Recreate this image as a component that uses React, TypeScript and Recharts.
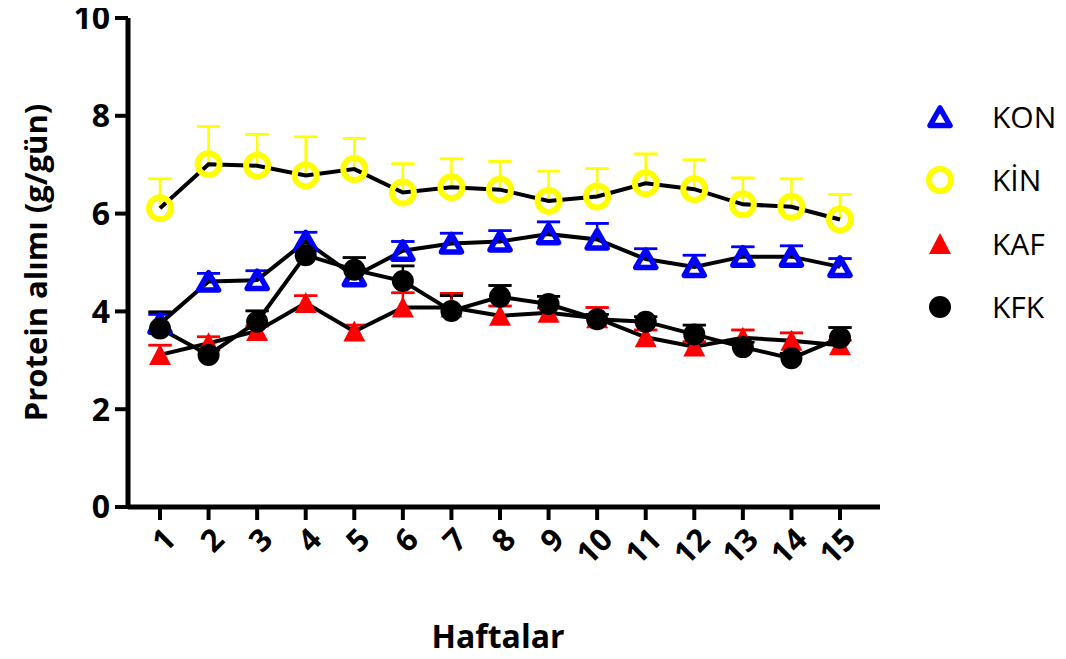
import React from 'react';
import { LineChart, Line, XAxis, YAxis, ErrorBar } from 'recharts';

const weeks = ['1', '2', '3', '4', '5', '6', '7', '8', '9', '10', '11', '12', '13', '14', '15'];

const konMean = [3.75, 4.61, 4.64, 5.43, 4.72, 5.24, 5.39, 5.43, 5.58, 5.47, 5.07, 4.91, 5.12, 5.12, 4.91];
const konErr = [0.19, 0.17, 0.19, 0.19, 0.15, 0.19, 0.21, 0.22, 0.25, 0.33, 0.21, 0.24, 0.2, 0.22, 0.17];

const kinMean = [6.11, 7.01, 6.98, 6.78, 6.91, 6.43, 6.54, 6.49, 6.26, 6.35, 6.62, 6.5, 6.19, 6.14, 5.88];
const kinErr = [0.6, 0.77, 0.64, 0.79, 0.63, 0.59, 0.58, 0.58, 0.61, 0.57, 0.6, 0.6, 0.54, 0.57, 0.51];

const kafMean = [3.11, 3.35, 3.6, 4.17, 3.59, 4.08, 4.08, 3.91, 3.97, 3.86, 3.47, 3.28, 3.46, 3.4, 3.31];
const kafErr = [0.2, 0.13, 0.1, 0.15, 0.13, 0.3, 0.29, 0.2, 0.1, 0.22, 0.15, 0.1, 0.16, 0.16, 0.1];

const kfkMean = [3.65, 3.11, 3.79, 5.15, 4.85, 4.62, 4.01, 4.3, 4.15, 3.84, 3.79, 3.53, 3.27, 3.04, 3.46];
const kfkErr = [0.34, 0.1, 0.22, 0.1, 0.25, 0.31, 0.31, 0.23, 0.16, 0.1, 0.1, 0.19, 0.1, 0.1, 0.21];

const yTicks = [0, 2, 4, 6, 8, 10];

const BLUE = '#0000FF';
const YELLOW = '#FFFF00';
const RED = '#FF0000';
const BLACK = '#000000';
const FONT = '"Open Sans", "DejaVu Sans", sans-serif';

const data = weeks.map((w, i) => ({
  week: w,
  kon: konMean[i],
  konE: [0, konErr[i]],
  konTop: konMean[i] + konErr[i],
  kin: kinMean[i],
  kinE: [0, kinErr[i]],
  kinTop: kinMean[i] + kinErr[i],
  kaf: kafMean[i],
  kafE: [0, kafErr[i]],
  kafTop: kafMean[i] + kafErr[i],
  kfk: kfkMean[i],
  kfkE: [0, kfkErr[i]],
  kfkTop: kfkMean[i] + kfkErr[i],
  cap: [0, 0],
}));

type MP = { cx: number; cy: number };

const OpenTriangle = ({ cx, cy }: MP) => (
  <path
    d={`M${cx},${cy - 9} L${cx + 10},${cy + 8.5} L${cx - 10},${cy + 8.5} Z`}
    fill="none"
    stroke={BLUE}
    strokeWidth={5.5}
    strokeLinejoin="round"
  />
);
const OpenCircle = ({ cx, cy }: MP) => (
  <circle cx={cx} cy={cy} r={11} fill="none" stroke={YELLOW} strokeWidth={6} />
);
const FilledTriangle = ({ cx, cy }: MP) => (
  <path d={`M${cx},${cy - 11} L${cx + 11},${cy + 10} L${cx - 11},${cy + 10} Z`} fill={RED} stroke="none" />
);
const FilledCircle = ({ cx, cy }: MP) => <circle cx={cx} cy={cy} r={11} fill={BLACK} />;

const series = [
  { key: 'kon', name: 'KON', color: BLUE, Marker: OpenTriangle },
  { key: 'kin', name: 'KİN', color: YELLOW, Marker: OpenCircle },
  { key: 'kaf', name: 'KAF', color: RED, Marker: FilledTriangle },
  { key: 'kfk', name: 'KFK', color: BLACK, Marker: FilledCircle },
];

const XTick = (props: any) => {
  const { x, y, payload } = props;
  return (
    <g transform={`translate(${x},${y})`}>
      <text
        transform="translate(9,11) rotate(-45)"
        textAnchor="end"
        dominantBaseline="central"
        fill="#000"
        fontSize={31}
        fontWeight={700}
        fontFamily={FONT}
      >
        {payload.value}
      </text>
    </g>
  );
};

const YLabel = (props: any) => {
  const vb = props.viewBox || { x: 0, y: 10, width: 120, height: 489 };
  const cx = vb.x + 27;
  const cy = vb.y + vb.height / 2;
  return (
    <text
      x={cx}
      y={cy}
      transform={`rotate(-90 ${cx} ${cy})`}
      textAnchor="middle"
      dominantBaseline="central"
      fill="#000"
      fontSize={31}
      fontWeight={700}
      fontFamily={FONT}
    >
      Protein alımı (g/gün)
    </text>
  );
};

const XLabel = (props: any) => {
  const vb = props.viewBox || { x: 120, y: 499, width: 752, height: 152 };
  const cx = vb.x + vb.width / 2 - 6;
  const cy = vb.y + 141;
  return (
    <text x={cx} y={cy} textAnchor="middle" fill="#000" fontSize={32} fontWeight={700} fontFamily={FONT}>
      Haftalar
    </text>
  );
};

export default function App() {
  return (
    <div style={{ position: 'relative', width: 1058, height: 651, fontFamily: FONT }}>
      <style>{'.recharts-surface{overflow:visible}'}</style>
      <LineChart width={1058} height={651} data={data} margin={{ top: 10, right: 186, bottom: 0, left: 0 }}>
        <XAxis
          dataKey="week"
          padding={{ left: 32, right: 40 }}
          height={152}
          tickSize={13}
          interval={0}
          axisLine={{ stroke: '#000', strokeWidth: 5 }}
          tickLine={{ stroke: '#000', strokeWidth: 4 }}
          tick={<XTick />}
          label={<XLabel />}
        />
        <YAxis
          domain={[0, 10]}
          ticks={yTicks}
          width={120}
          tickSize={13}
          tickMargin={5}
          interval={0}
          axisLine={{ stroke: '#000', strokeWidth: 5 }}
          tickLine={{ stroke: '#000', strokeWidth: 4 }}
          tick={{ fill: '#000', fontSize: 32, fontWeight: 700, fontFamily: FONT }}
          label={<YLabel />}
        />
        {series.map((s) => (
          <Line
            key={`${s.key}Top`}
            dataKey={`${s.key}Top`}
            stroke="none"
            dot={false}
            activeDot={false}
            legendType="none"
            isAnimationActive={false}
          >
            <ErrorBar dataKey="cap" width={11.5} stroke={s.color} strokeWidth={2.5} direction="y" />
          </Line>
        ))}
        {series.map((s) => (
          <Line
            key={s.key}
            dataKey={s.key}
            name={s.name}
            stroke="#000"
            strokeWidth={4}
            activeDot={false}
            isAnimationActive={false}
            dot={(p: any) => <s.Marker key={`${s.key}-${p.index}`} cx={p.cx} cy={p.cy} />}
          >
            <ErrorBar dataKey={`${s.key}E`} width={0} stroke={s.color} strokeWidth={2.5} direction="y" />
          </Line>
        ))}
      </LineChart>
      <div style={{ position: 'absolute', left: 912, top: 77, width: 146 }}>
        {series.map((s) => (
          <div key={s.key} style={{ display: 'flex', alignItems: 'center', height: 63.5 }}>
            <svg width={40} height={40} style={{ display: 'block' }}>
              <s.Marker cx={20} cy={20} />
            </svg>
            <span style={{ marginLeft: 32, fontSize: 30, color: '#000', lineHeight: 1 }}>{s.name}</span>
          </div>
        ))}
      </div>
    </div>
  );
}
